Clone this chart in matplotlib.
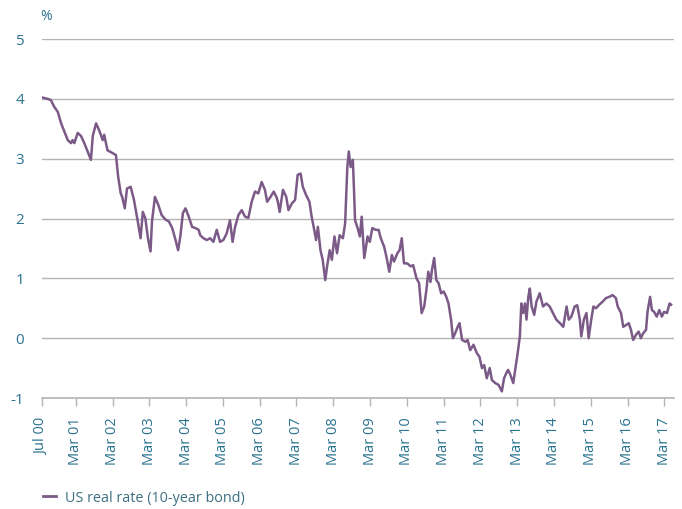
import numpy as np
import matplotlib.pyplot as plt
from matplotlib.lines import Line2D


# Decimal years and US real rate (%)
dates = [
    2000.27, 2000.40, 2000.49, 2000.58, 2000.68, 2000.77, 2000.86, 2000.95,
    2001.04, 2001.08, 2001.13, 2001.22, 2001.31, 2001.40, 2001.49, 2001.58,
    2001.63, 2001.72, 2001.80, 2001.90, 2001.94, 2002.03, 2002.12, 2002.26,
    2002.32, 2002.39, 2002.43, 2002.50, 2002.56, 2002.66, 2002.75, 2002.84,
    2002.93, 2002.99, 2003.06, 2003.13, 2003.20, 2003.24, 2003.32, 2003.41,
    2003.50, 2003.61, 2003.70, 2003.79, 2003.88, 2003.95, 2004.01, 2004.08,
    2004.15, 2004.24, 2004.33, 2004.42, 2004.51, 2004.55, 2004.64, 2004.73,
    2004.82, 2004.91, 2005.00, 2005.09, 2005.18, 2005.27, 2005.36, 2005.43,
    2005.50, 2005.59, 2005.68, 2005.77, 2005.86, 2005.95, 2006.04, 2006.13,
    2006.22, 2006.31, 2006.37, 2006.46, 2006.55, 2006.63, 2006.66, 2006.71,
    2006.80, 2006.89, 2006.95, 2007.04, 2007.13, 2007.20, 2007.28, 2007.34,
    2007.43, 2007.52, 2007.58, 2007.66, 2007.70, 2007.75, 2007.82, 2007.88,
    2007.95, 2008.00, 2008.07, 2008.13, 2008.20, 2008.27, 2008.34, 2008.43,
    2008.49, 2008.55, 2008.59, 2008.64, 2008.70, 2008.73, 2008.76, 2008.83,
    2008.89, 2008.94, 2009.01, 2009.10, 2009.16, 2009.23, 2009.32, 2009.40,
    2009.46, 2009.55, 2009.62, 2009.69, 2009.76, 2009.82, 2009.91, 2009.97,
    2010.03, 2010.09, 2010.18, 2010.27, 2010.34, 2010.43, 2010.50, 2010.57,
    2010.64, 2010.70, 2010.75, 2010.81, 2010.85, 2010.91, 2010.97, 2011.03,
    2011.10, 2011.17, 2011.24, 2011.30, 2011.37, 2011.42, 2011.48, 2011.55,
    2011.60, 2011.67, 2011.76, 2011.82, 2011.89, 2011.98, 2012.07, 2012.14,
    2012.21, 2012.27, 2012.34, 2012.42, 2012.48, 2012.57, 2012.66, 2012.75,
    2012.81, 2012.89, 2012.92, 2012.98, 2013.06, 2013.10, 2013.18, 2013.24,
    2013.28, 2013.33, 2013.38, 2013.42, 2013.47, 2013.51, 2013.56, 2013.63,
    2013.69, 2013.78, 2013.87, 2013.96, 2014.05, 2014.14, 2014.23, 2014.33,
    2014.42, 2014.51, 2014.57, 2014.64, 2014.73, 2014.80, 2014.87, 2014.91,
    2014.98, 2015.05, 2015.11, 2015.18, 2015.24, 2015.31, 2015.40, 2015.49,
    2015.58, 2015.67, 2015.76, 2015.85, 2015.90, 2015.99, 2016.05, 2016.13,
    2016.20, 2016.26, 2016.32, 2016.40, 2016.47, 2016.53, 2016.59, 2016.67,
    2016.71, 2016.78, 2016.83, 2016.89, 2016.96, 2017.03, 2017.10, 2017.16,
    2017.24, 2017.31, 2017.35,
]
rate = [
    4.02, 4.00, 3.98, 3.87, 3.78, 3.59, 3.45, 3.31,
    3.26, 3.31, 3.26, 3.43, 3.38, 3.26, 3.12, 2.98,
    3.38, 3.59, 3.48, 3.31, 3.40, 3.14, 3.11, 3.06,
    2.70, 2.42, 2.36, 2.17, 2.50, 2.53, 2.31, 2.00,
    1.67, 2.11, 2.00, 1.67, 1.45, 1.95, 2.36, 2.23,
    2.06, 1.98, 1.95, 1.84, 1.64, 1.47, 1.70, 2.09,
    2.17, 2.03, 1.86, 1.84, 1.81, 1.72, 1.67, 1.64,
    1.67, 1.61, 1.81, 1.61, 1.64, 1.75, 1.97, 1.61,
    1.86, 2.06, 2.14, 2.03, 2.01, 2.28, 2.45, 2.42,
    2.61, 2.48, 2.28, 2.36, 2.45, 2.35, 2.28, 2.11,
    2.48, 2.36, 2.14, 2.25, 2.31, 2.73, 2.75, 2.53,
    2.39, 2.28, 2.03, 1.78, 1.64, 1.86, 1.47, 1.31,
    0.97, 1.20, 1.47, 1.31, 1.70, 1.42, 1.72, 1.67,
    1.92, 2.86, 3.12, 2.86, 2.98, 2.50, 1.97, 1.84,
    1.70, 2.03, 1.34, 1.70, 1.61, 1.84, 1.81, 1.81,
    1.67, 1.53, 1.34, 1.11, 1.39, 1.28, 1.42, 1.47,
    1.67, 1.25, 1.25, 1.20, 1.22, 1.00, 0.92, 0.42,
    0.53, 0.81, 1.11, 0.94, 1.14, 1.34, 0.97, 0.92,
    0.75, 0.78, 0.69, 0.58, 0.31, 0.00, 0.08, 0.19,
    0.25, -0.03, -0.06, -0.03, -0.20, -0.11, -0.25, -0.31,
    -0.50, -0.45, -0.67, -0.50, -0.70, -0.75, -0.78, -0.89,
    -0.67, -0.56, -0.53, -0.61, -0.75, -0.58, -0.25, 0.03,
    0.58, 0.42, 0.58, 0.31, 0.69, 0.83, 0.53, 0.39,
    0.61, 0.75, 0.53, 0.58, 0.53, 0.42, 0.31, 0.25,
    0.19, 0.53, 0.31, 0.36, 0.53, 0.55, 0.31, 0.03,
    0.31, 0.42, 0.00, 0.31, 0.53, 0.50, 0.56, 0.61,
    0.67, 0.69, 0.72, 0.67, 0.53, 0.42, 0.19, 0.22,
    0.25, 0.14, -0.03, 0.06, 0.11, 0.00, 0.08, 0.14,
    0.44, 0.69, 0.47, 0.44, 0.36, 0.47, 0.36, 0.44,
    0.42, 0.58, 0.56,
]

# x axis labels
tick_pos = [2000.25] + [y + 2 / 12 for y in range(2001, 2018)]
tick_labels = ["Jul 00"] + ["Mar %02d" % (y % 100) for y in range(1, 18)]
y_ticks = [-1, 0, 1, 2, 3, 4, 5]

TEAL = "#2b7390"
PURPLE = "#7b5a88"
GRID = "#b4b4b4"

plt.rcParams["font.family"] = ["Open Sans", "DejaVu Sans"]
plt.rcParams["axes.unicode_minus"] = False

fig = plt.figure(figsize=(6.82, 5.09), dpi=100)
ax = fig.add_axes([42 / 682, 1 - 398 / 509, 632 / 682, 359 / 509])

ax.plot(dates, rate, color=PURPLE, lw=1.8, solid_joinstyle="round", zorder=3)

ax.set_xlim(2000.25, 2017.43)
ax.set_ylim(-1, 5)

# horizontal grid lines
ax.set_yticks(y_ticks)
ax.yaxis.grid(True, color=GRID, lw=1)
ax.tick_params(axis="y", length=0, pad=13, labelcolor=TEAL, labelsize=11)
for lbl in ax.get_yticklabels():
    lbl.set_horizontalalignment("right")

ax.set_xticks(tick_pos)
ax.set_xticklabels(tick_labels, rotation=90, va="top", ha="center")
ax.tick_params(axis="x", length=6, width=1, color=GRID, labelcolor=TEAL,
               labelsize=10.5, pad=8, direction="out")

for side in ["left", "right", "top"]:
    ax.spines[side].set_visible(False)
ax.spines["bottom"].set_color(GRID)
ax.spines["bottom"].set_linewidth(1.2)

fig.text(40 / 682, 1 - 16 / 509, "%", color=TEAL, fontsize=10, ha="left", va="center")

handle = Line2D([0], [0], color=PURPLE, lw=2)
fig.legend([handle], ["US real rate (10-year bond)"], loc="center left",
           bbox_to_anchor=(30 / 682, 1 - 498 / 509), frameon=False,
           handlelength=0.9, handletextpad=0.6, fontsize=10.4,
           labelcolor="#3d6f80")

fig.savefig("out.png", dpi=100)
